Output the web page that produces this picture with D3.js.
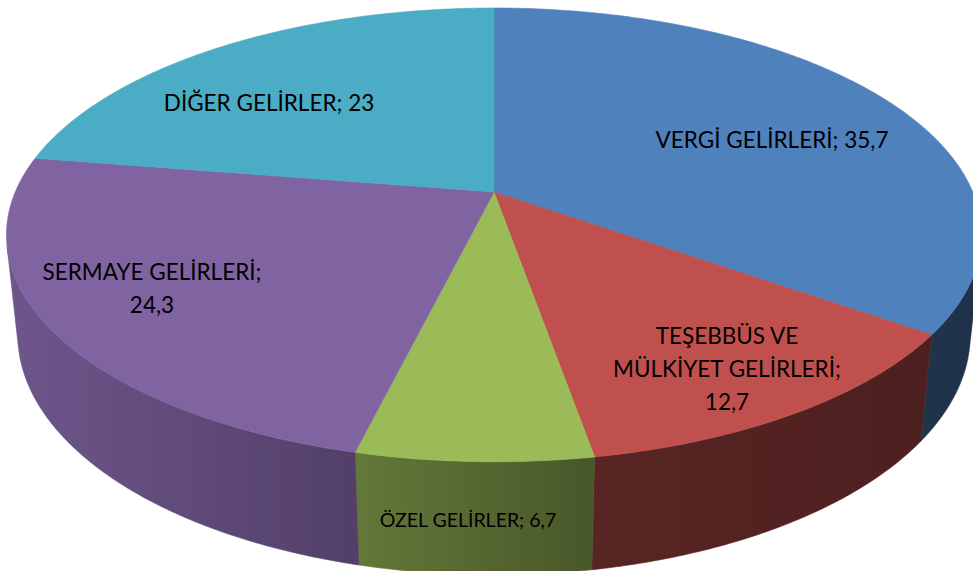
<!DOCTYPE html>
<html>
<head>
<meta charset="utf-8">
<script src="https://cdn.jsdelivr.net/npm/d3@7"></script>
<style>
  body { margin: 0; background: #fff; }
  svg { display: block; }
</style>
</head>
<body>
<svg id="chart"></svg>
<script>
// Data
const categories = ["VERGİ GELİRLERİ", "TEŞEBBÜS VE MÜLKİYET GELİRLERİ", "ÖZEL GELİRLER", "SERMAYE GELİRLERİ", "DİĞER GELİRLER"];
const values = [35.7, 12.7, 6.7, 24.3, 23];
const valueLabels = ["35,7", "12,7", "6,7", "24,3", "23"];
const colors = ["#4F81BD", "#C0504D", "#9BBB59", "#8064A2", "#4BACC6"];
// label text broken into lines as in the chart
const labelLines = [
    ["VERGİ GELİRLERİ; 35,7"],
    ["TEŞEBBÜS VE", "MÜLKİYET GELİRLERİ;", "12,7"],
    ["ÖZEL GELİRLER; 6,7"],
    ["SERMAYE GELİRLERİ;", "24,3"],
    ["DİĞER GELİRLER; 23"]
];

const width = 973, height = 571;

const svg = d3.select("#chart")
    .attr("width", width)
    .attr("height", height);

// Perspective "camera" for the tilted disc
const view = { cx: 494, cy: 192, f: 2253, L: 4.706, phi: Math.asin(0.457), t: 0.236 };
const sp = Math.sin(view.phi), cp = Math.cos(view.phi);

// a: angle clockwise from 12 o'clock, r: radius fraction, h: 0 = top face, 1 = bottom face
function project(a, r, h) {
    const X = r * Math.sin(a), Z = -r * Math.cos(a), Y = -view.t * h;
    const depth = view.L - Y * sp - Z * cp;
    const yd = -Y * cp + Z * sp;
    return [view.cx + view.f * X / depth, view.cy + view.f * yd / depth];
}

function arcPoints(a0, a1, h) {
    const n = Math.max(2, Math.ceil((a1 - a0) / 0.01));
    return d3.range(n + 1).map(i => project(a0 + (a1 - a0) * i / n, 1, h));
}

const pie = d3.pie().sort(null).value(d => d)
    .startAngle(0).endAngle(2 * Math.PI);
const arcs = pie(values);

const line = d3.line();

// side wall is visible only where it faces the camera
const wallHalf = Math.acos(1 / (view.L * cp));
const wallMin = Math.PI - wallHalf, wallMax = Math.PI + wallHalf;

// wall shading gets darker from left to right
const shade = d3.scaleLinear()
    .domain([0, 360, 600, width])
    .range([0.86, 0.64, 0.46, 0.39]);
function shadeColor(c, k) {
    const rgb = d3.rgb(c);
    return d3.rgb(rgb.r * k, rgb.g * k, rgb.b * k).formatHex();
}

const defs = svg.append("defs");

// Side walls
arcs.forEach((d, i) => {
    const a0 = Math.max(d.startAngle, wallMin), a1 = Math.min(d.endAngle, wallMax);
    if (a1 <= a0) return;
    const top = arcPoints(a0, a1, 0);
    const bottom = arcPoints(a0, a1, 1).reverse();
    const pts = top.concat(bottom);
    const x0 = d3.min(pts, p => p[0]), x1 = d3.max(pts, p => p[0]);

    const grad = defs.append("linearGradient")
        .attr("id", "side" + i)
        .attr("gradientUnits", "userSpaceOnUse")
        .attr("x1", x0).attr("x2", x1).attr("y1", 0).attr("y2", 0);
    d3.range(5).forEach(s => {
        const x = x0 + (x1 - x0) * s / 4;
        grad.append("stop")
            .attr("offset", s / 4)
            .attr("stop-color", shadeColor(colors[i], shade(x)));
    });

    svg.append("path")
        .attr("d", line(pts) + "Z")
        .attr("fill", "url(#side" + i + ")")
        .attr("stroke", "url(#side" + i + ")")
        .attr("stroke-width", 0.6);
});

// Top faces
arcs.forEach((d, i) => {
    const pts = [project(0, 0, 0)].concat(arcPoints(d.startAngle, d.endAngle, 0));
    svg.append("path")
        .attr("d", line(pts) + "Z")
        .attr("fill", colors[i])
        .attr("stroke", colors[i])
        .attr("stroke-width", 0.6);
});

// Data labels (centre of each text block)
const labelPos = [[772, 140], [727, 369], [468, 520], [152, 288], [269, 103]];
const labelSize = [22.5, 22.5, 19.5, 22.5, 22.5];
const lineGap = 33;

labelLines.forEach((lines, i) => {
    const [lx, ly] = labelPos[i];
    const y0 = ly - (lines.length - 1) * lineGap / 2;
    const text = svg.append("text")
        .attr("text-anchor", "middle")
        .style("font-family", "Lato, 'Open Sans', sans-serif")
        .style("font-size", labelSize[i] + "px")
        .attr("fill", "#000");
    lines.forEach((s, j) => {
        text.append("tspan")
            .attr("x", lx)
            .attr("y", y0 + j * lineGap)
            .attr("dy", "0.36em")
            .text(s);
    });
});
</script>
</body>
</html>
